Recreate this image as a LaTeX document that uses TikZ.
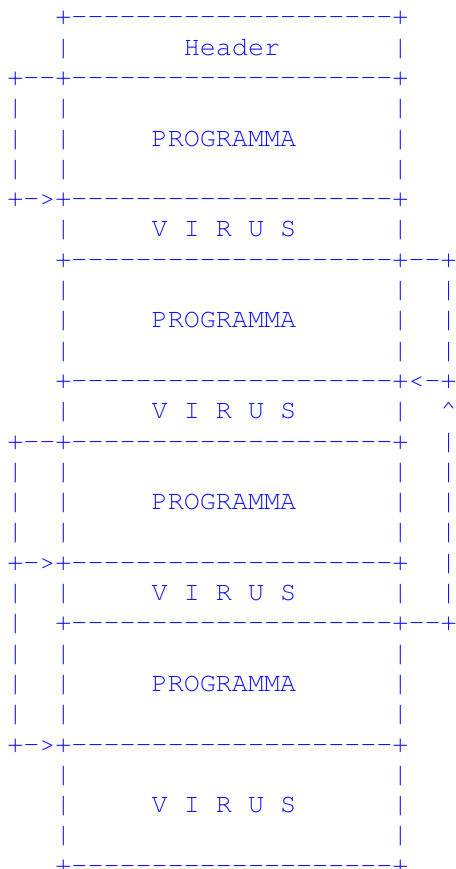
\documentclass[tikz,border=0pt]{standalone}
\usepackage{fontspec}
\setmonofont{texgyrecursor-regular.otf}
\usepackage{tikz}
\definecolor{asciiblue}{RGB}{20,20,255}
\newcommand{\rowdashes}{--------------------}
\newcommand{\rowblank}{~~~~~~~~~~~~~~~~~~~~}
\tikzset{
  asciirow/.style={anchor=base west, inner sep=0pt, text=asciiblue, text depth=0pt,
    font=\ttfamily\fontsize{26.75pt}{30.3pt}\selectfont} % one line of the drawing
}

\begin{document}
\begin{tikzpicture}[x=16.05pt, y=-30.3pt]
    \useasboundingbox (0,0) rectangle (28.35,28.68);

    \begin{scope}[shift={(0.44,-0.18)}]
        % Header
        \node[asciirow] (r1) at (0,1) {~~~+\rowdashes+};
        \node[asciirow] (r2) at (0,2) {~~~|~~~~~~~Header~~~~~~~|};

        % First program
        \node[asciirow] (r3) at (0,3) {+--+\rowdashes+};
        \node[asciirow] (r4) at (0,4) {|~~|\rowblank|};
        \node[asciirow] (r5) at (0,5) {|~~|~~~~~PROGRAMMA~~~~~~|};
        \node[asciirow] (r6) at (0,6) {|~~|\rowblank|};
        \node[asciirow] (r7) at (0,7) {+->+\rowdashes+};
        \node[asciirow] (r8) at (0,8) {~~~|~~~~~V~I~R~U~S~~~~~~|};

        % Second program
        \node[asciirow] (r9) at (0,9) {~~~+\rowdashes+--+};
        \node[asciirow] (r10) at (0,10) {~~~|\rowblank|~~|};
        \node[asciirow] (r11) at (0,11) {~~~|~~~~~PROGRAMMA~~~~~~|~~|};
        \node[asciirow] (r12) at (0,12) {~~~|\rowblank|~~|};
        \node[asciirow] (r13) at (0,13) {~~~+\rowdashes+<-+};
        \node[asciirow] (r14) at (0,14) {~~~|~~~~~V~I~R~U~S~~~~~~|~~\textasciicircum};

        % Third program
        \node[asciirow] (r15) at (0,15) {+--+\rowdashes+~~|};
        \node[asciirow] (r16) at (0,16) {|~~|\rowblank|~~|};
        \node[asciirow] (r17) at (0,17) {|~~|~~~~~PROGRAMMA~~~~~~|~~|};
        \node[asciirow] (r18) at (0,18) {|~~|\rowblank|~~|};
        \node[asciirow] (r19) at (0,19) {+->+\rowdashes+~~|};
        \node[asciirow] (r20) at (0,20) {|~~|~~~~~V~I~R~U~S~~~~~~|~~|};

        % Fourth program
        \node[asciirow] (r21) at (0,21) {|~~+\rowdashes+--+};
        \node[asciirow] (r22) at (0,22) {|~~|\rowblank|};
        \node[asciirow] (r23) at (0,23) {|~~|~~~~~PROGRAMMA~~~~~~|};
        \node[asciirow] (r24) at (0,24) {|~~|\rowblank|};
        \node[asciirow] (r25) at (0,25) {+->+\rowdashes+};

        % Last virus
        \node[asciirow] (r26) at (0,26) {~~~|\rowblank|};
        \node[asciirow] (r27) at (0,27) {~~~|~~~~~V~I~R~U~S~~~~~~|};
        \node[asciirow] (r28) at (0,28) {~~~|\rowblank|};
        \node[asciirow] (r29) at (0,29) {~~~+\rowdashes+};
    \end{scope}
\end{tikzpicture}
\end{document}
